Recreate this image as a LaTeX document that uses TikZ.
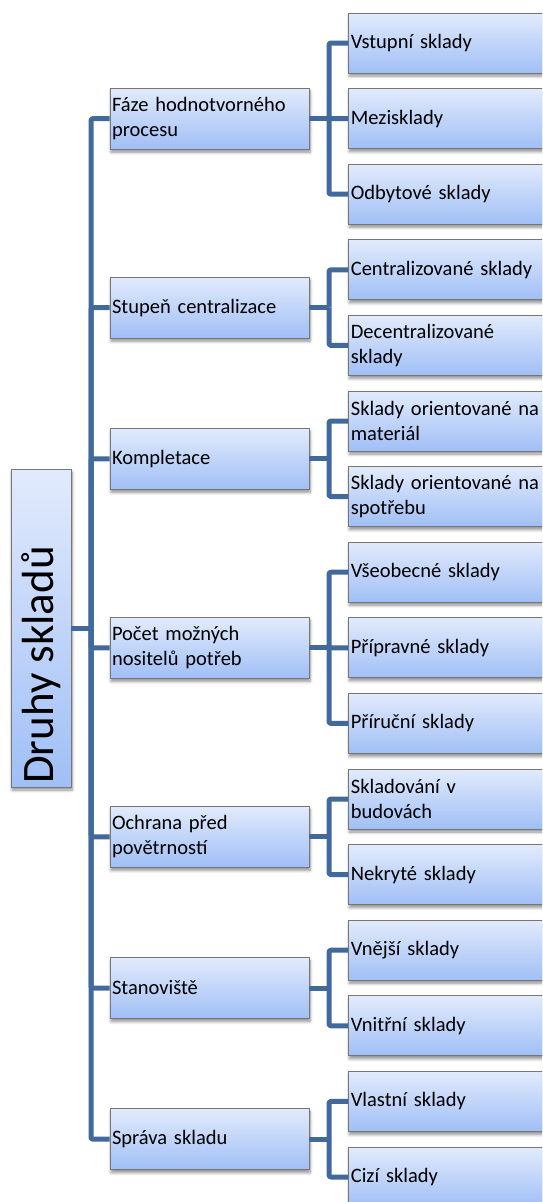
\documentclass[tikz,border=0pt]{standalone}
\usepackage{fontspec}
\setmainfont{Carlito}
\usetikzlibrary{shadows.blur,calc}
\definecolor{boxtop}{RGB}{226,235,252}
\definecolor{boxbot}{RGB}{160,191,246}
\definecolor{connc}{RGB}{65,105,156}
\definecolor{boxline}{RGB}{118,118,118}
\tikzset{
  basebox/.style={rectangle, draw=boxline, line width=0.7pt, top color=boxtop, bottom color=boxbot,
    blur shadow={shadow xshift=1pt, shadow yshift=-3pt, shadow blur radius=3pt, shadow blur steps=6, shadow opacity=45},
    font=\fontsize{20.5}{25}\selectfont, inner xsep=1.5pt, inner ysep=0pt, align=left},
  lvone/.style={basebox, minimum width=199pt, minimum height=61pt, text width=195pt},
  lvtwo/.style={basebox, minimum width=214pt, minimum height=60pt, text width=209pt, anchor=west},
  rootbox/.style={basebox, minimum width=60pt, minimum height=318pt},
  link/.style={draw=connc, line width=5pt, line join=round, rounded corners=2pt},
}
\begin{document}
\begin{tikzpicture}[x=1pt,y=-1pt]
\useasboundingbox (0,0) rectangle (542,1202);
\clip (0,0) rectangle (542,1202);
% root
\node[rootbox] (root) at (41,628) {};
\node[rotate=90, anchor=base west, inner sep=0pt, font=\fontsize{45}{54}\selectfont] (roottext) at (53,784) {Druhy skladů};
% level 1
\node[lvone] (a) at (209.5,118.6) {Fáze hodnotvorného\\procesu};
\node[lvone] (b) at (209.5,307.6) {Stupeň centralizace};
\node[lvone] (c) at (209.5,458.8) {Kompletace};
\node[lvone] (d) at (209.5,647.8) {Počet možných\\nositelů potřeb};
\node[lvone] (e) at (209.5,836.8) {Ochrana před\\povětrností};
\node[lvone] (f) at (209.5,988) {Stanoviště};
\node[lvone] (g) at (209.5,1139.2) {Správa skladu};
% level 2
\node[lvtwo] (a1) at (348,43) {Vstupní sklady};
\node[lvtwo] (a2) at (348,118.6) {Mezisklady};
\node[lvtwo] (a3) at (348,194.2) {Odbytové sklady};
\node[lvtwo] (b1) at (348,269.8) {Centralizované sklady};
\node[lvtwo] (b2) at (348,345.4) {Decentralizované\\sklady};
\node[lvtwo] (c1) at (348,421) {Sklady orientované na\\materiál};
\node[lvtwo] (c2) at (348,496.6) {Sklady orientované na\\spotřebu};
\node[lvtwo] (d1) at (348,572.2) {Všeobecné sklady};
\node[lvtwo] (d2) at (348,647.8) {Přípravné sklady};
\node[lvtwo] (d3) at (348,723.4) {Příruční sklady};
\node[lvtwo] (e1) at (348,799) {Skladování v\\budovách};
\node[lvtwo] (e2) at (348,874.6) {Nekryté sklady};
\node[lvtwo] (f1) at (348,950.2) {Vnější sklady};
\node[lvtwo] (f2) at (348,1025.8) {Vnitřní sklady};
\node[lvtwo] (g1) at (348,1101.4) {Vlastní sklady};
\node[lvtwo] (g2) at (348,1177) {Cizí sklady};
% connectors root -> level 1
\coordinate (trunk) at (91,628);
\draw[link] (root.east) -- (trunk);
\foreach \n in {a,b,c,d,e,f,g} {\draw[link] (trunk) |- (\n.west);}
% connectors level 1 -> level 2
\coordinate (busa) at (329,118.6);
\coordinate (busb) at (329,307.6);
\coordinate (busc) at (329,458.8);
\coordinate (busd) at (329,647.8);
\coordinate (buse) at (329,836.8);
\coordinate (busf) at (329,988);
\coordinate (busg) at (329,1139.2);
\foreach \n in {a,b,c,d,e,f,g} {\draw[link] (\n.east) -- (bus\n);}
\foreach \n in {a1,a2,a3} {\draw[link] (busa) |- (\n.west);}
\foreach \n in {b1,b2} {\draw[link] (busb) |- (\n.west);}
\foreach \n in {c1,c2} {\draw[link] (busc) |- (\n.west);}
\foreach \n in {d1,d2,d3} {\draw[link] (busd) |- (\n.west);}
\foreach \n in {e1,e2} {\draw[link] (buse) |- (\n.west);}
\foreach \n in {f1,f2} {\draw[link] (busf) |- (\n.west);}
\foreach \n in {g1,g2} {\draw[link] (busg) |- (\n.west);}
\end{tikzpicture}
\end{document}
